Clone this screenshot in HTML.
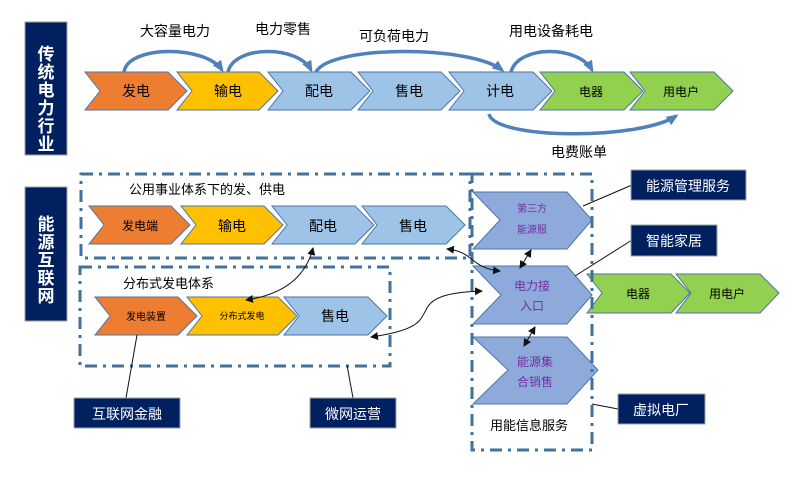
<!DOCTYPE html>
<html><head><meta charset="utf-8"><style>
html,body{margin:0;padding:0;background:#fff}
svg{display:block}
text{font-family:"Liberation Sans","Noto Sans CJK SC",sans-serif}
</style></head><body>
<svg width="792" height="477" viewBox="0 0 792 477" xmlns="http://www.w3.org/2000/svg">
<defs>
<marker id="a" markerWidth="8" markerHeight="8" refX="7" refY="4" orient="auto-start-reverse" markerUnits="userSpaceOnUse"><path d="M0,0 L8,4 L0,8 z" fill="#111"/></marker>
<marker id="b" markerWidth="12" markerHeight="10" refX="9" refY="5" orient="auto" markerUnits="userSpaceOnUse"><path d="M0,0 L12,5 L0,10 z" fill="#4f81bd"/></marker>
</defs>
<!-- left labels -->
<rect x="25" y="22" width="42" height="133" fill="#002060" stroke="#a0a0a0"/>
<text fill="#fff" font-size="17" font-weight="bold" text-anchor="middle"><tspan x="46" y="60">传</tspan><tspan x="46" y="78">统</tspan><tspan x="46" y="96">电</tspan><tspan x="46" y="114">力</tspan><tspan x="46" y="132">行</tspan><tspan x="46" y="150">业</tspan></text>
<rect x="25" y="187" width="42" height="134" fill="#002060" stroke="#a0a0a0"/>
<text fill="#fff" font-size="17" font-weight="bold" text-anchor="middle"><tspan x="46" y="230">能</tspan><tspan x="46" y="248">源</tspan><tspan x="46" y="266">互</tspan><tspan x="46" y="284">联</tspan><tspan x="46" y="302">网</tspan></text>

<g stroke="#4a76a8" stroke-width="1">
<!-- top row -->
<polygon points="85,72 168,72 187,91 168,110 85,110 100,91" fill="#ed7d31"/>
<polygon points="177,72 259,72 278,91 259,110 177,110 192,91" fill="#ffc000"/>
<polygon points="268,72 351,72 370,91 351,110 268,110 283,91" fill="#9dc3e6"/>
<polygon points="358,72 441,72 460,91 441,110 358,110 373,91" fill="#9dc3e6"/>
<polygon points="449,72 533,72 552,91 533,110 449,110 464,91" fill="#9dc3e6"/>
<polygon points="540,72 624,72 643,91 624,110 540,110 555,91" fill="#92d050"/>
<polygon points="630,72 714,72 733,91 714,110 630,110 645,91" fill="#92d050"/>
<!-- row 1 bottom -->
<polygon points="89,206 171,206 190,225 171,244 89,244 104,225" fill="#ed7d31"/>
<polygon points="181,206 264,206 283,225 264,244 181,244 196,225" fill="#ffc000"/>
<polygon points="272,206 355,206 374,225 355,244 272,244 287,225" fill="#9dc3e6"/>
<polygon points="362,206 446,206 465,225 446,244 362,244 377,225" fill="#9dc3e6"/>
<!-- row 2 -->
<polygon points="95,297 178,297 197,316 178,335 95,335 110,316" fill="#ed7d31"/>
<polygon points="187,297 278,297 297,316 278,335 187,335 202,316" fill="#ffc000"/>
<polygon points="284,297 368,297 387,316 368,335 284,335 299,316" fill="#9dc3e6"/>
<!-- purple -->
<polygon points="473,192 567,192 592,220 567,249 473,249 500,220" fill="#8eaadb"/>
<polygon points="473,266 567,266 592,295 567,324 473,324 501,295" fill="#8eaadb"/>
<polygon points="473,337 567,337 598,370 567,404 473,404 508,370" fill="#8eaadb"/>
<!-- green -->
<polygon points="587,274 671,274 690,293 671,313 587,313 602,293" fill="#92d050"/>
<polygon points="676,274 760,274 779,293 760,313 676,313 691,293" fill="#92d050"/>
</g>

<!-- dashed boxes -->
<g fill="none" stroke="#41719c" stroke-width="3" stroke-dasharray="12,6,3,6">
<rect x="81" y="174" width="389" height="84"/>
<rect x="80" y="267" width="310" height="99"/>
<rect x="472" y="174" width="120" height="276"/>
</g>

<!-- top arcs -->
<g fill="none" stroke="#4f81bd" stroke-width="3.5" marker-end="url(#b)">
<path d="M124,72 C128,45 205,45 222,70"/>
<path d="M228,72 C234,45 298,45 311,70"/>
<path d="M316,72 C330,45 470,45 502,70"/>
<path d="M511,72 C518,45 578,45 592,70"/>
<path d="M489,114 C495,140 640,140 676,116"/>
</g>

<!-- top texts -->
<g font-size="14" fill="#000">
<text x="140" y="36">大容量电力</text>
<text x="255" y="34">电力零售</text>
<text x="359" y="41">可负荷电力</text>
<text x="509" y="36">用电设备耗电</text>
<text x="551" y="157">电费账单</text>
<text x="129" y="194" font-size="13">公用事业体系下的发、供电</text>
<text x="123" y="288" font-size="13">分布式发电体系</text>
<text x="490" y="430" font-size="13">用能信息服务</text>
</g>
<g font-size="14" fill="#000" text-anchor="middle">
<text x="136" y="96">发电</text>
<text x="228" y="96">输电</text>
<text x="319" y="96">配电</text>
<text x="409" y="96">售电</text>
<text x="500" y="96">计电</text>
<text x="591" y="96" font-size="12">电器</text>
<text x="681" y="96" font-size="12">用电户</text>
<text x="140" y="230" font-size="12">发电端</text>
<text x="232" y="231">输电</text>
<text x="323" y="231">配电</text>
<text x="413" y="231">售电</text>
<text x="146" y="320" font-size="10">发电装置</text>
<text x="242" y="319" font-size="9">分布式发电</text>
<text x="335" y="321">售电</text>
<text x="638" y="298" font-size="12">电器</text>
<text x="727" y="298" font-size="12">用电户</text>
</g>
<g fill="#7030a0" text-anchor="middle">
<text x="532" y="212" font-size="10">第三方</text>
<text x="532" y="233" font-size="10">能源服</text>
<text x="532" y="290" font-size="12">电力接</text>
<text x="532" y="310" font-size="12">入口</text>
<text x="535" y="366" font-size="12">能源集</text>
<text x="535" y="386" font-size="12">合销售</text>
</g>

<!-- black connectors -->
<g fill="none" stroke="#111" stroke-width="1">
<path d="M313,248 C305,280 280,295 246,300" marker-start="url(#a)" marker-end="url(#a)"/>
<path d="M447,249 C475,252 470,268 500,271" marker-start="url(#a)" marker-end="url(#a)"/>
<path d="M371,337 C420,330 420,320 426,310 C432,295 455,292 482,291" marker-start="url(#a)" marker-end="url(#a)"/>
<path d="M531,250 L520,268" marker-start="url(#a)" marker-end="url(#a)"/>
<path d="M535,327 L524,346" marker-start="url(#a)" marker-end="url(#a)"/>
<path d="M583,206 L632,185"/>
<path d="M575,276 L632,240"/>
<path d="M592,404 L618,409"/>
<path d="M137,335 L126,398"/>
<path d="M347,365 L353,398"/>
</g>

<!-- dark label boxes -->
<g fill="#002060" stroke="#a0a0a0">
<rect x="631" y="170" width="115" height="30"/>
<rect x="631" y="225" width="86" height="31"/>
<rect x="618" y="394" width="87" height="30"/>
<rect x="74" y="398" width="106" height="30"/>
<rect x="310" y="398" width="86" height="30"/>
</g>
<g fill="#fff" font-size="14" text-anchor="middle">
<text x="688" y="191">能源管理服务</text>
<text x="674" y="246">智能家居</text>
<text x="661" y="415">虚拟电厂</text>
<text x="127" y="419">互联网金融</text>
<text x="353" y="419">微网运营</text>
</g>
</svg>
</body></html>
